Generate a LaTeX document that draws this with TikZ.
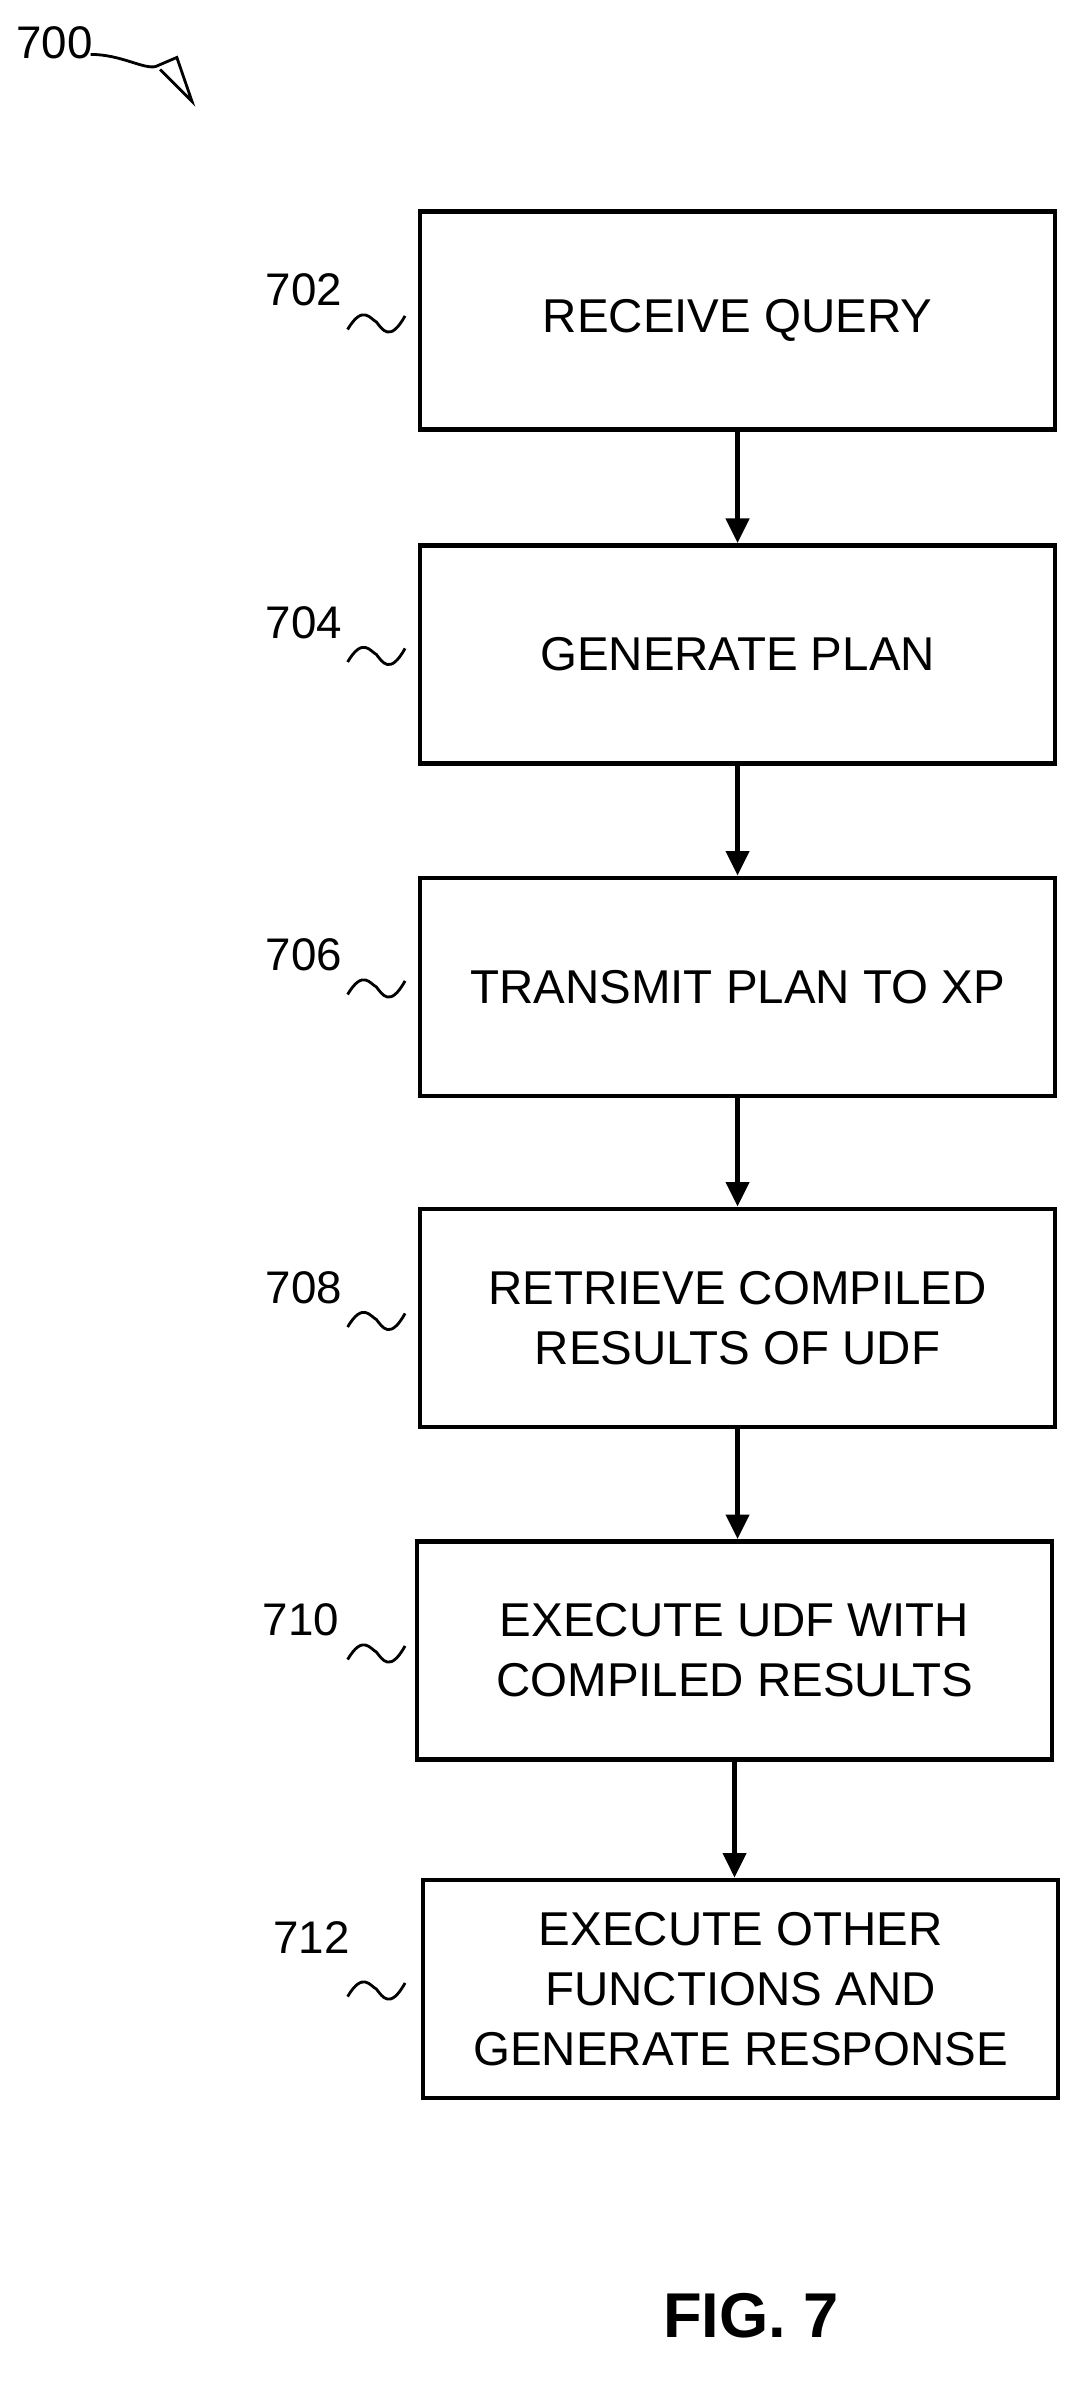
\documentclass[tikz,border=0pt]{standalone}
\usepackage{fontspec}
\setmainfont{Liberation Sans}
\usetikzlibrary{positioning, arrows.meta}

\begin{document}
\begin{tikzpicture}[x=0.03022cm, y=-0.03022cm,
			box/.style={draw, line width=2.6pt, minimum width=12.69cm, minimum height=4.36cm, align=center, font=\fontsize{27}{34}\selectfont},
			num/.style={font=\fontsize{26}{30}\selectfont},
			squig/.style={line width=1.6pt},
			flow/.style={-{Triangle[length=14pt,width=13pt]}, line width=2.6pt}]
		\useasboundingbox (0,0) rectangle (720,1578);
		\node[box] (b702) at (488,212)  {RECEIVE QUERY};
		\node[box] (b704) at (488,433)  {GENERATE PLAN};
		\node[box] (b706) at (488,653)  {TRANSMIT PLAN TO XP};
		\node[box] (b708) at (488,872)  {RETRIEVE COMPILED\\RESULTS OF UDF};
		\node[box] (b710) at (486,1092) {EXECUTE UDF WITH\\COMPILED RESULTS};
		\node[box] (b712) at (490,1316) {EXECUTE OTHER\\FUNCTIONS AND\\GENERATE RESPONSE};

		\node[num] (l702) at (201,192)  {702};
		\node[num] (l704) at (201,412)  {704};
		\node[num] (l706) at (201,632)  {706};
		\node[num] (l708) at (201,852)  {708};
		\node[num] (l710) at (199,1072) {710};
		\node[num] (l712) at (206,1282) {712};
		\foreach \n/\y in {702/213, 704/433, 706/653, 708/873, 710/1093, 712/1316}
			\draw[squig] (230,\y+5) .. controls (240,\y-12) and (245,\y-2) .. (249,\y)
				.. controls (253,\y+5) and (258,\y+14) .. (268,\y-4);

		\foreach \from/\to in {b702/b704, b704/b706, b706/b708, b708/b710, b710/b712}
			\draw[flow] (\from.south) -- (\from.south |- \to.north);

		\node[num] (l700) at (36,28) {700};
		\draw[squig] (60,36) .. controls (80,36) and (95,46) .. (103,44)
			-- (117,38) -- (127,67) -- (106,46);
		\node[font=\bfseries\fontsize{36}{40}\selectfont] (fig) at (497,1532) {FIG. 7};
	\end{tikzpicture}
\end{document}
